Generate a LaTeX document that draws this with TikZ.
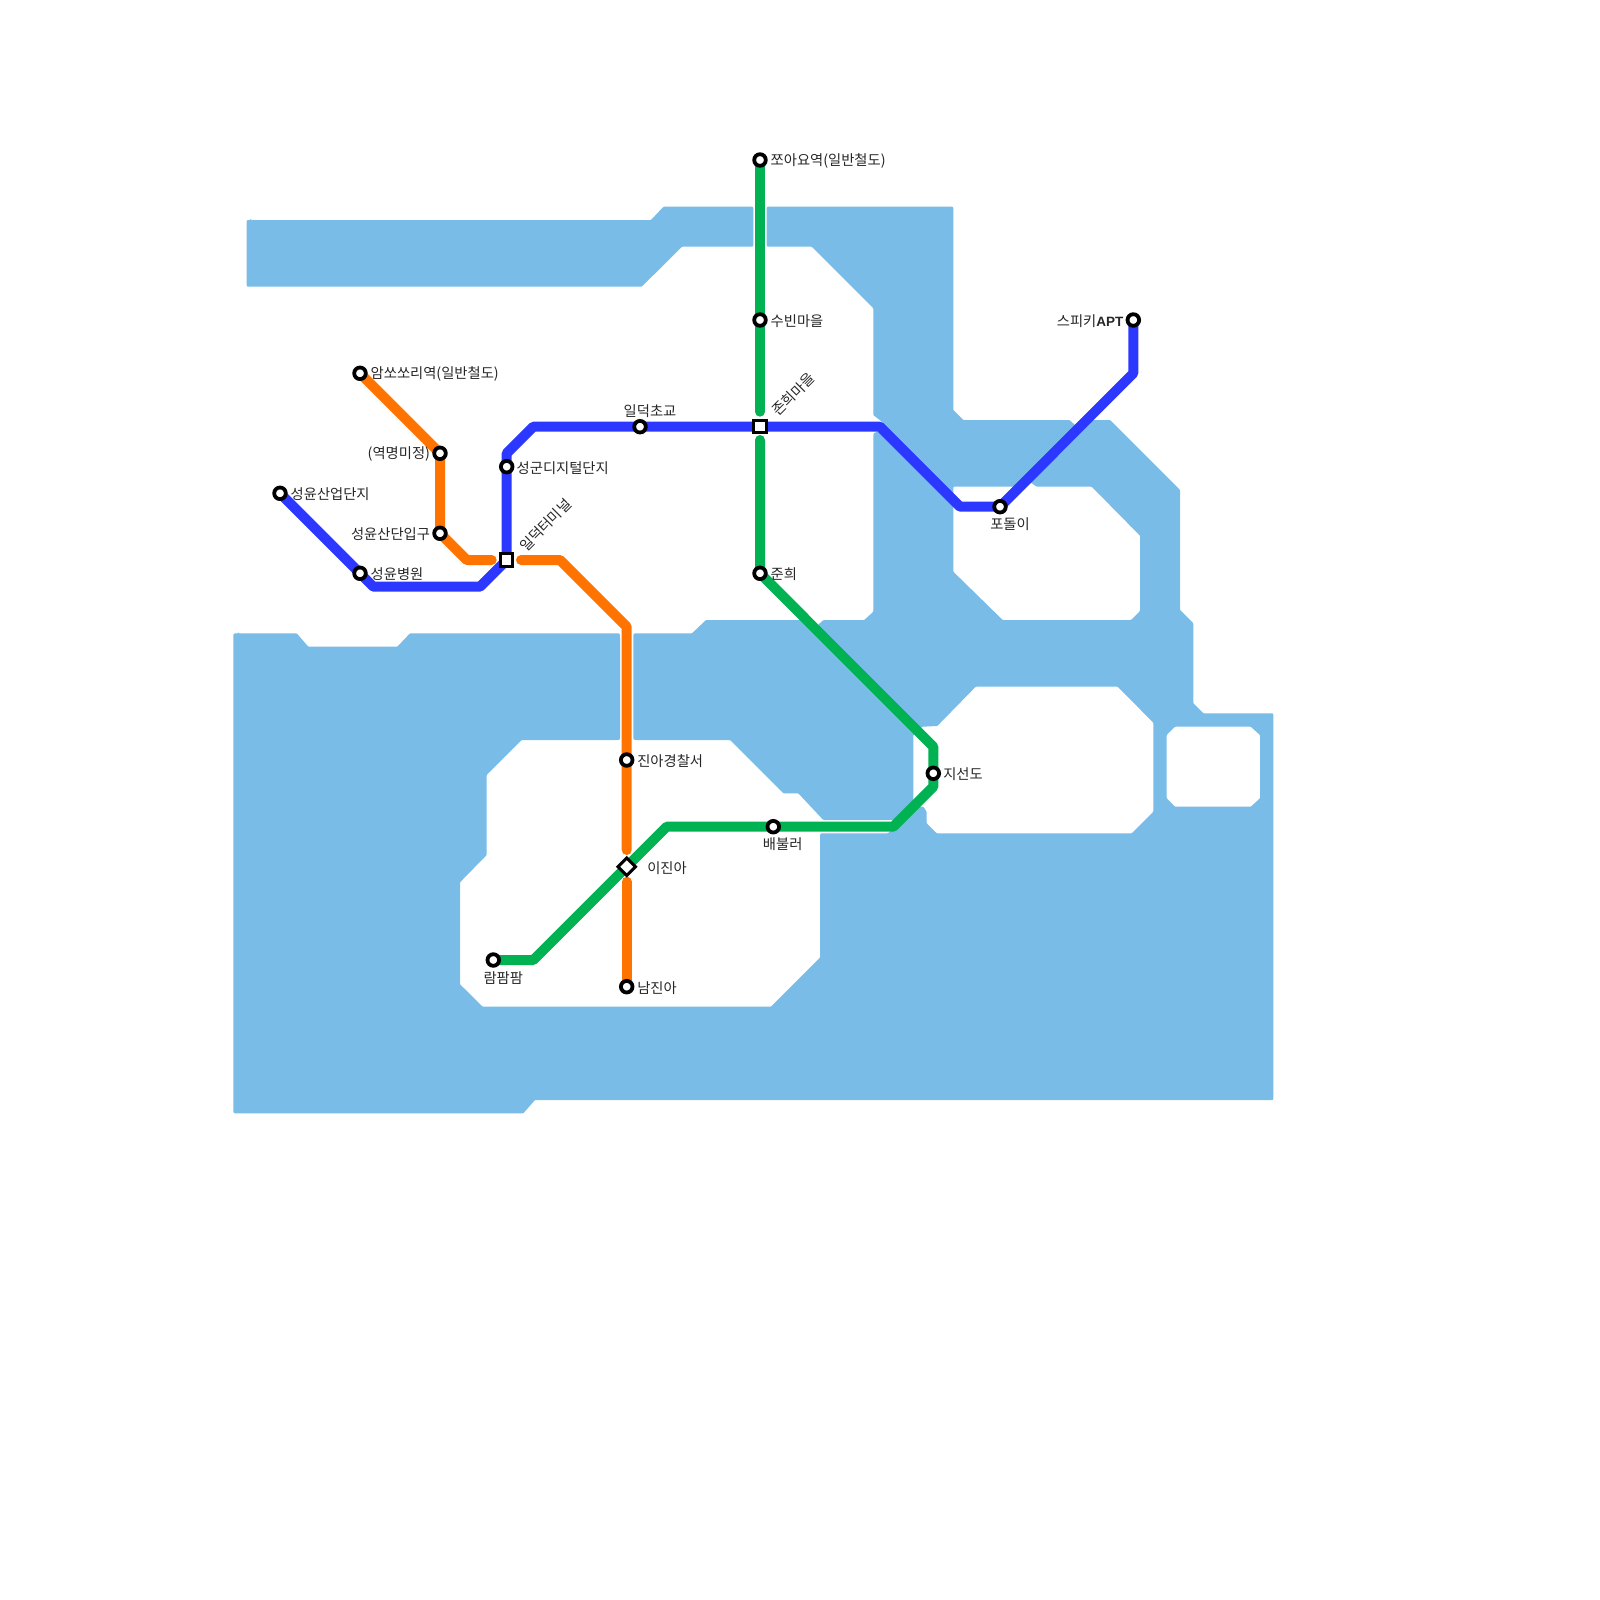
\documentclass[tikz,border=0pt]{standalone}
\usepackage{fontspec}
\setmainfont{Noto Sans CJK KR}
\newfontfamily\latinlab{Liberation Sans}
\definecolor{waterc}{HTML}{7ABCE8}
\definecolor{blueline}{HTML}{2C38FF}
\definecolor{orangeline}{HTML}{FF7300}
\definecolor{greenline}{HTML}{00B251}
\pgfdeclarelayer{waterlayer}
\pgfdeclarelayer{linelayer}
\pgfsetlayers{waterlayer,linelayer,main}
\usetikzlibrary{shapes.geometric}
\tikzset{
  x=1pt,y=-1pt,
  water/.style={fill=waterc,even odd rule,rounded corners=0.8pt},
  metro/.style={line width=10pt,line join=round,line cap=round},
  stn/.style={circle,draw=black,fill=white,line width=3.8pt,minimum size=11.6pt,inner sep=0pt,outer sep=0pt},
  hub/.style={rectangle,draw=black,fill=white,line width=3pt,minimum size=12.4pt,inner sep=0pt,outer sep=0pt},
  hubd/.style={diamond,draw=black,fill=white,line width=3pt,minimum size=17.5pt,inner sep=0pt,outer sep=0pt},
  lab/.style={font=\fontsize{14.3pt}{14.3pt}\selectfont,text=black!85,inner sep=0pt,outer sep=0pt,yshift=-1pt}
}
\begin{document}
\begin{tikzpicture}
\useasboundingbox (0,0) rectangle (1600,1600);
% stations
\node[stn] (amsso) at (360,373.3) {};
\node[stn] (yeok) at (440,453.3) {};
\node[stn] (ipgu) at (440,533.3) {};
\node[stn] (saneop) at (280,493.3) {};
\node[stn] (byeong) at (360,573.3) {};
\node[stn] (seonggun) at (506.7,466.7) {};
\node[hub] (ilter) at (506.7,560) {};
\node[stn] (ilcho) at (640,426.7) {};
\node[stn] (jjoa) at (760,160) {};
\node[stn] (subin) at (760,320) {};
\node[hub] (jonhui) at (760,426.7) {};
\node[stn] (junhui) at (760,573.3) {};
\node[stn] (jiseon) at (933.3,773.3) {};
\node[stn] (podol) at (1000,506.7) {};
\node[stn] (speaki) at (1133.3,320) {};
\node[stn] (jina) at (626.7,760) {};
\node[hubd] (ijina) at (626.7,866.7) {};
\node[stn] (namjina) at (626.7,986.7) {};
\node[stn] (baebul) at (773.3,826.7) {};
\node[stn] (ram) at (493.3,960) {};
% bends and line ends
\coordinate (o1) at (466.7,560);
\coordinate (o2) at (491.7,560);
\coordinate (o3) at (521,560);
\coordinate (o4) at (560,560);
\coordinate (o5) at (626.7,626.7);
\coordinate (o6) at (626.7,850);
\coordinate (o7) at (626.7,881.7);
\coordinate (b1) at (373.3,586.7);
\coordinate (b2) at (480,586.7);
\coordinate (b3) at (506.7,453.3);
\coordinate (b4) at (533.3,426.7);
\coordinate (b5) at (880,426.7);
\coordinate (b6) at (960,506.7);
\coordinate (b7) at (1133.3,373.3);
\coordinate (g1) at (760,411.7);
\coordinate (g2) at (760,440);
\coordinate (g3) at (933.3,746.7);
\coordinate (g4) at (933.3,786.7);
\coordinate (g5) at (893.3,826.7);
\coordinate (g6) at (666.7,826.7);
\coordinate (g7) at (533.3,960);
% labels
\node[lab,anchor=west] (t1) at (370.7,373.3) {암쏘쏘리역(일반철도)};
\node[lab,anchor=east] (t2) at (430,453.3) {(역명미정)};
\node[lab,anchor=east] (t3) at (430,533.3) {성윤산단입구};
\node[lab,anchor=west] (t4) at (290.7,493.3) {성윤산업단지};
\node[lab,anchor=west] (t5) at (370.7,573.3) {성윤병원};
\node[lab,anchor=west] (t6) at (516.7,466.7) {성군디지털단지};
\node[lab,rotate=45] (t7) at (545.5,524) {일덕터미널};
\node[lab] (t8) at (650,410) {일덕초교};
\node[lab,anchor=west] (t9) at (770.7,160) {쪼아요역(일반철도)};
\node[lab,anchor=west] (t10) at (770.7,320) {수빈마을};
\node[lab,rotate=45] (t11) at (793.3,393.3) {존희마을};
\node[lab,anchor=west] (t12) at (770.7,573.3) {준희};
\node[lab,anchor=west] (t13) at (943.3,773.3) {지선도};
\node[lab] (t14) at (1010,523.3) {포돌이};
\node[lab,anchor=east] (t15) at (1123.3,320) {스피키{\latinlab\fontsize{13.5pt}{13.5pt}\selectfont\bfseries APT}};
\node[lab,anchor=west] (t16) at (637.3,760) {진아경찰서};
\node[lab,anchor=west] (t17) at (647.3,866.7) {이진아};
\node[lab,anchor=west] (t18) at (637.3,986.7) {남진아};
\node[lab] (t19) at (782.7,843.3) {배불러};
\node[lab] (t20) at (503.3,977.3) {람팜팜};
% lines
\begin{pgfonlayer}{linelayer}
\draw[metro,orangeline] (amsso.center) -- (yeok.center) -- (ipgu.center) -- (o1) -- (o2);
\draw[metro,orangeline] (o3) -- (o4) -- (o5) -- (jina.center) -- (o6);
\draw[metro,orangeline] (o7) -- (namjina.center);
\draw[metro,blueline] (saneop.center) -- (byeong.center) -- (b1) -- (b2) -- (ilter.center) -- (seonggun.center) -- (b3) -- (b4) -- (ilcho.center) -- (jonhui.center) -- (b5) -- (b6) -- (podol.center) -- (b7) -- (speaki.center);
\draw[metro,greenline] (jjoa.center) -- (subin.center) -- (g1);
\draw[metro,greenline] (g2) -- (junhui.center) -- (g3) -- (jiseon.center) -- (g4) -- (g5) -- (baebul.center) -- (g6) -- (ijina.center) -- (g7) -- (ram.center);
\end{pgfonlayer}
% water
\begin{pgfonlayer}{waterlayer}
\fill[water] (250.7,220) -- (651,220) -- (663.5,206.7) -- (749.3,206.7) .. controls (753.3,206.7) .. (753.3,210.7) -- (753.3,242.7) .. controls (753.3,246.7) .. (749.3,246.7) -- (682,246.7) -- (641.7,286.7) -- (250.7,286.7) .. controls (246.7,286.7) .. (246.7,282.7) -- (246.7,224) .. controls (246.7,220) .. (250.7,220) -- cycle;
\fill[water]
 (238.3,633.3) -- (296.7,633.3) -- (308.3,646.7) -- (397.3,646.7) -- (410,633.3) -- (615,633.3) .. controls (620,633.3) .. (620,638.3) -- (620,735) .. controls (620,740) .. (615,740) -- (521.7,740) -- (486.7,775) -- (486.7,855) -- (460,882.3) -- (460,984.3) -- (482.7,1006.7) -- (771,1006.7) -- (820,957.7) -- (820,838.3) .. controls (820,833.3) .. (825,833.3) -- (888,833.3) -- (915,806.7) -- (923.3,806.7) -- (926.7,811.7) -- (926.7,823.3) -- (936.7,833.3) -- (1131.7,833.3) -- (1153.3,811.7) -- (1153.3,722.7) -- (1117.7,686.7) -- (975.7,686.7) -- (937.3,726) -- (922.3,726.7) -- (913.3,735) -- (913.3,802) -- (897,820) -- (823.3,820) -- (798.3,793.3) -- (783.3,793.3) -- (730,740) -- (638.3,740) .. controls (633.3,740) .. (633.3,735) -- (633.3,638.3) .. controls (633.3,633.3) .. (638.3,633.3) -- (692,633.3) -- (706,620) -- (806,620) -- (816,627) -- (823.3,620) -- (864.3,620) -- (873.3,611.7) -- (873.3,437) .. controls (873.3,433) .. (878,431.7) -- (890,431) -- (881.7,421.7) -- (873.3,415) -- (873.3,308.3) -- (811.7,246.7) -- (770.7,246.7) .. controls (766.7,246.7) .. (766.7,242.7) -- (766.7,210.7) .. controls (766.7,206.7) .. (770.7,206.7) -- (949.3,206.7) .. controls (953.3,206.7) .. (953.3,210.7) -- (953.3,410) -- (963.3,420) -- (1069.5,420) -- (1076,426) -- (1094,420) -- (1110,420) -- (1180,490) -- (1180,610) -- (1193.3,623.3) -- (1193.3,703.3) -- (1203.3,713.3) -- (1269.3,713.3) .. controls (1273.3,713.3) .. (1273.3,717.3) -- (1273.3,1097) .. controls (1273.3,1100) .. (1270.3,1100) -- (535,1100) -- (523.3,1113.3) -- (238.3,1113.3) .. controls (233.3,1113.3) .. (233.3,1108.3) -- (233.3,638.3) .. controls (233.3,633.3) .. (238.3,633.3) -- cycle
 (1166.7,735) -- (1175,726.7) -- (1250.7,726.7) -- (1260,735) -- (1260,798.3) -- (1250.7,806.7) -- (1175,806.7) -- (1166.7,798.3) -- cycle
 (953.3,486.7) -- (1015,486.7) -- (1027,480) -- (1036.7,486.7) -- (1091.7,486.7) -- (1140,535.7) -- (1140,611) -- (1131,620) -- (1002.7,620) -- (953.3,571.7) -- cycle;
\end{pgfonlayer}
\end{tikzpicture}
\end{document}
